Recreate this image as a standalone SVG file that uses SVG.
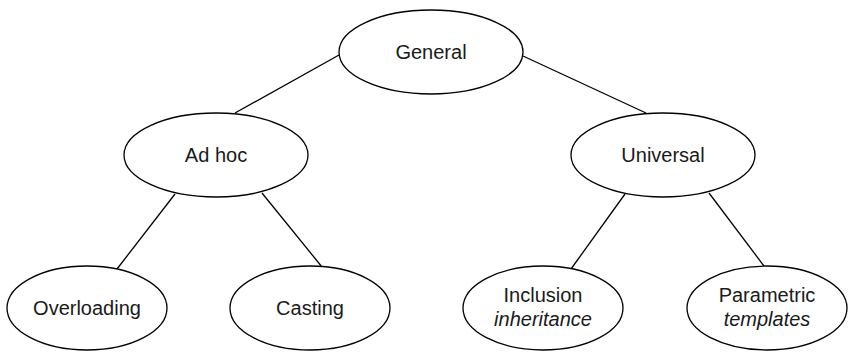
<svg xmlns="http://www.w3.org/2000/svg" width="861" height="352" viewBox="0 0 861 352">
  <style>
    .node ellipse { fill: #ffffff; stroke: #000000; stroke-width: 1.3; }
    .node text { font-family: "Liberation Sans", Arial, sans-serif; font-size: 20px; fill: #1a1a1a; text-anchor: middle; }
    .node text.em { font-style: italic; }
    .edges line { stroke: #000000; stroke-width: 1.3; }
  </style>
  <rect width="861" height="352" fill="#ffffff"/>
  <g class="edges">
    <line x1="339" y1="55" x2="235" y2="113"/>
    <line x1="523" y1="56" x2="646" y2="113"/>
    <line x1="175" y1="194" x2="117" y2="269"/>
    <line x1="262" y1="193" x2="322" y2="267"/>
    <line x1="625" y1="194" x2="571" y2="269"/>
    <line x1="709" y1="193" x2="764" y2="266"/>
  </g>
  <g id="general" class="node">
    <ellipse cx="431" cy="52" rx="92" ry="42"/>
    <text x="431" y="59">General</text>
  </g>
  <g id="adhoc" class="node">
    <ellipse cx="216" cy="155" rx="92" ry="42"/>
    <text x="216" y="162">Ad hoc</text>
  </g>
  <g id="universal" class="node">
    <ellipse cx="663" cy="155" rx="92" ry="42"/>
    <text x="663" y="162">Universal</text>
  </g>
  <g id="overloading" class="node">
    <ellipse cx="87" cy="308" rx="80" ry="42"/>
    <text x="87" y="315">Overloading</text>
  </g>
  <g id="casting" class="node">
    <ellipse cx="310" cy="308" rx="80" ry="42"/>
    <text x="310" y="315">Casting</text>
  </g>
  <g id="inclusion" class="node">
    <ellipse cx="543" cy="308" rx="80" ry="42"/>
    <text x="543" y="302">Inclusion</text>
    <text class="em" x="543" y="326">inheritance</text>
  </g>
  <g id="parametric" class="node">
    <ellipse cx="767" cy="308" rx="80" ry="42"/>
    <text x="767" y="302">Parametric</text>
    <text class="em" x="767" y="326">templates</text>
  </g>
</svg>
